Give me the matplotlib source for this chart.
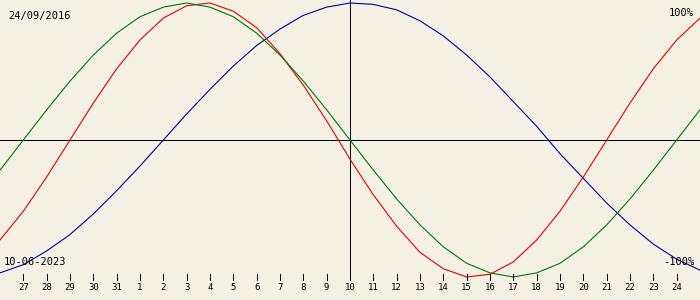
import matplotlib
matplotlib.use("Agg")
import matplotlib.pyplot as plt

# day offsets from the target date (10-06-2023), one value per day
days = list(range(-15, 16))
physical = [-0.73, -0.52, -0.27, 0.00, 0.27, 0.52, 0.73, 0.89, 0.98, 1.00, 0.94,
            0.82, 0.63, 0.40, 0.14, -0.14, -0.40, -0.63, -0.82, -0.94, -1.00,
            -0.98, -0.89, -0.73, -0.52, -0.27, 0.00, 0.27, 0.52, 0.73, 0.89]
emotional = [-0.22, 0.00, 0.22, 0.43, 0.62, 0.78, 0.90, 0.97, 1.00, 0.97, 0.90,
             0.78, 0.62, 0.43, 0.22, 0.00, -0.22, -0.43, -0.62, -0.78, -0.90,
             -0.97, -1.00, -0.97, -0.90, -0.78, -0.62, -0.43, -0.22, 0.00, 0.22]
intellectual = [-0.97, -0.91, -0.81, -0.69, -0.54, -0.37, -0.19, 0.00, 0.19, 0.37, 0.54,
                0.69, 0.81, 0.91, 0.97, 1.00, 0.99, 0.95, 0.87, 0.76, 0.62,
                0.46, 0.28, 0.10, -0.10, -0.28, -0.46, -0.62, -0.76, -0.87, -0.95]

tick_days = list(range(-14, 15))
tick_labels = ["27", "28", "29", "30", "31"] + [str(i) for i in range(1, 25)]

birth_date = "24/09/2016"
target_date = "10-06-2023"

bg = "#f4f0e4"
font = "DejaVu Sans Mono"
px = 0.72  # one pixel at 100 dpi

fig = plt.figure(figsize=(7, 3), dpi=100, facecolor=bg)
ax = fig.add_axes([0, 0, 1, 1])
ax.set_facecolor(bg)
ax.set_xlim(-15, 15)
ax.set_ylim(-1.168, 1.022)
ax.axis("off")

# axes cross
ax.axhline(0, color="black", lw=px, antialiased=False)
ax.plot([0, 0], [1.03, -1.022], color="black", lw=px, antialiased=False)

ax.plot(days, intellectual, color="#0000a0", lw=0.8)
ax.plot(days, physical, color="#e00000", lw=0.8)
ax.plot(days, emotional, color="#007800", lw=0.8)

for d, lab in zip(tick_days, tick_labels):
    ax.plot([d, d], [-0.978, -1.022], color="black", lw=px, antialiased=False)
    ax.text(d, -1.08, lab, ha="center", va="center", fontsize=6.5,
            family=font, color="black")

fig.text(8 / 700, 1 - 16 / 300, birth_date, ha="left", va="center",
         fontsize=7.5, family=font)
fig.text(694 / 700, 1 - 13 / 300, "100%", ha="right", va="center",
         fontsize=7.5, family=font)
fig.text(4 / 700, 1 - 262 / 300, target_date, ha="left", va="center",
         fontsize=7.5, family=font)
fig.text(694 / 700, 1 - 262 / 300, "-100%", ha="right", va="center",
         fontsize=7.5, family=font)

fig.savefig("out.png", dpi=100, facecolor=bg)
